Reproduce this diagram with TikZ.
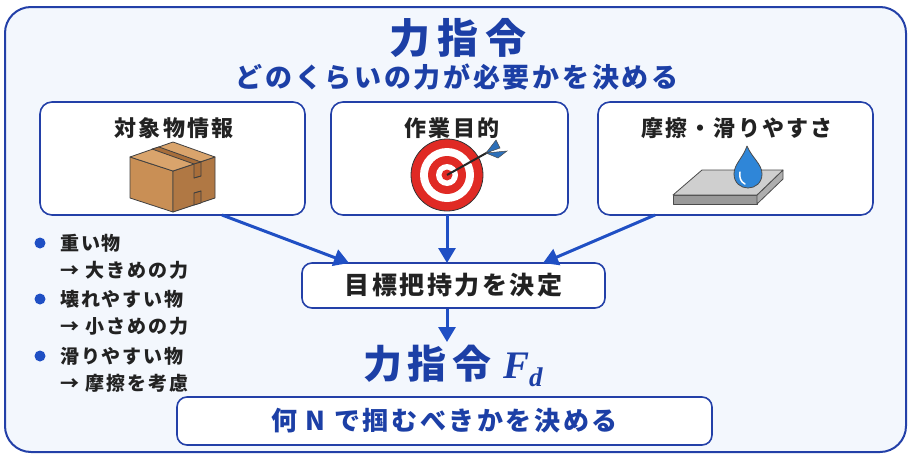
\documentclass[tikz,border=0pt]{standalone}
\usepackage{fontspec}
\setmainfont{Noto Sans CJK JP}[LetterSpace=10]
\newfontfamily\symserif{Liberation Serif}
\usetikzlibrary{arrows.meta}
\definecolor{frameblue}{HTML}{2340A8}
\definecolor{titleblue}{HTML}{1C3FA6}
\definecolor{arrowblue}{HTML}{1F4FC4}
\definecolor{panelbg}{HTML}{F3F7FD}
\definecolor{textdark}{HTML}{222222}
\definecolor{boxtop}{HTML}{D9A46C}
\definecolor{boxleft}{HTML}{C98F55}
\definecolor{boxright}{HTML}{B07844}
\definecolor{tape}{HTML}{A86E3A}
\definecolor{targetred}{HTML}{E02A24}
\definecolor{dartblue}{HTML}{2D6FB8}
\definecolor{plate}{HTML}{CFCFCF}
\definecolor{plateside}{HTML}{9A9A9A}
\definecolor{drop}{HTML}{2F86D8}
\tikzset{
  card/.style={draw=frameblue, line width=1.6pt, fill=white, rounded corners=12pt},
  flow/.style={draw=arrowblue, line width=3pt, -{Triangle[length=15pt,width=17pt]}},
  label/.style={text=textdark, font=\bfseries\fontsize{22}{26}\selectfont},
  bullet/.style={circle, fill=arrowblue, inner sep=0pt, minimum size=11pt},
  note/.style={text=textdark, font=\bfseries\fontsize{19}{22}\selectfont, anchor=west, inner sep=0pt},
}
\begin{document}
\begin{tikzpicture}[x=1pt, y=-1pt]
\useasboundingbox (0,0) rectangle (910,455);
\fill[white] (0,0) rectangle (910,455);
% outer panel
\draw[draw=frameblue, line width=2pt, fill=panelbg, rounded corners=26pt] (5,7) rectangle (906,452);

% headings
\node[text=titleblue, font=\bfseries\fontsize{41}{44}\selectfont\addfontfeature{LetterSpace=18}] (title) at (458,38) {力指令};
\node[text=titleblue, font=\bfseries\fontsize{27}{30}\selectfont] (subtitle) at (457,77) {どのくらいの力が必要かを決める};

% input cards
\draw[card] (40,102) rectangle (305,215);
\draw[card] (331,102) rectangle (568,215);
\draw[card] (598,102) rectangle (873,215);
\node[label] (l1) at (174,128) {対象物情報};
\node[label] (l2) at (452,128) {作業目的};
\node[label] (l3) at (737,128) {摩擦・滑りやすさ};

% cardboard box
\begin{scope}[line join=round, draw=black!75, line width=0.8pt]
\filldraw[fill=boxleft] (130,157) -- (173,171) -- (173,212) -- (130,198) -- cycle;
\filldraw[fill=boxright] (173,171) -- (215,157) -- (215,198) -- (173,212) -- cycle;
\filldraw[fill=boxtop] (173,142) -- (215,157) -- (173,171) -- (130,157) -- cycle;
% tape on top and down the right face
\filldraw[fill=tape] (152,149) -- (159,147) -- (201,162) -- (194,164) -- cycle;
\filldraw[fill=tape] (194,164) -- (201,162) -- (201,176) -- (194,178) -- cycle;
\filldraw[fill=tape] (194,193) -- (201,191) -- (201,203) -- (194,205) -- cycle;
\draw[line width=0.6pt] (194,178) -- (201,176) (194,193) -- (201,191);
\end{scope}

% target with dart
\begin{scope}[draw=black!80, line width=0.8pt]
\filldraw[fill=targetred] (447,175) circle (36);
\fill[white] (447,175) circle (27);
\fill[targetred] (447,175) circle (19);
\fill[white] (447,175) circle (11);
\fill[targetred] (447,175) circle (5.5);
\draw[line width=2pt, black!85] (447,175) -- (490,151);
\fill[dartblue, draw=black!70, line width=0.5pt] (486,153) -- (496,140) -- (500,148) -- cycle;
\fill[dartblue, draw=black!70, line width=0.5pt] (486,153) -- (507,151) -- (498,158) -- cycle;
\end{scope}

% slab with water drop
\begin{scope}[line join=round, draw=black!70, line width=0.8pt]
\filldraw[fill=plateside] (673,195) -- (757,195) -- (757,204) -- (673,204) -- cycle;
\filldraw[fill=plateside!80] (757,195) -- (783,170) -- (783,179) -- (757,204) -- cycle;
\filldraw[fill=plate] (673,195) -- (702,170) -- (783,170) -- (757,195) -- cycle;
\filldraw[fill=drop] (747,146) .. controls (752,158) and (762,164) .. (762,174)
  .. controls (762,183) and (755,188) .. (748,188)
  .. controls (741,188) and (734,183) .. (734,174)
  .. controls (734,164) and (743,158) .. (747,146) -- cycle;
\draw[white, line width=1.5pt, line cap=round] (740,172) .. controls (739,178) and (741,182) .. (745,184);
\end{scope}

% decision box
\node[draw=frameblue, line width=1.6pt, fill=white, rounded corners=10pt,
      minimum width=303pt, minimum height=45pt, text=textdark,
      font=\bfseries\fontsize{25}{28}\selectfont] (decide) at (453.5,285.5) {目標把持力を決定};

\coordinate (s1) at (222,215);
\coordinate (s2) at (447,215);
\coordinate (s3) at (655,215);
\coordinate (e1) at (349,263);
\coordinate (e2) at (447,263);
\coordinate (e3) at (543,263);
\draw[flow] (s1) -- (e1);
\draw[flow] (s2) -- (e2);
\draw[flow] (s3) -- (e3);

% force command
\node[text=titleblue, font=\bfseries\fontsize{39}{42}\selectfont\addfontfeature{LetterSpace=14}, inner sep=0pt] (fd) at (453,366)
  {力指令\hspace{0.3em}{\symserif\bfseries\itshape F\raisebox{-0.22em}{\fontsize{27}{30}\selectfont d}}};
\coordinate (fdtop) at (447,342);
\draw[flow] (decide.south -| fdtop) -- (fdtop);

% result box
\node[draw=frameblue, line width=1.6pt, fill=white, rounded corners=10pt,
      minimum width=535pt, minimum height=48pt, text=titleblue,
      font=\bfseries\fontsize{26}{30}\selectfont] (result) at (444.5,421) {何 N で掴むべきかを決める};

% notes on the left
\node[bullet] (b1) at (40,243) {};
\node[bullet] (b2) at (40,299) {};
\node[bullet] (b3) at (40,356) {};
\node[note] (n1a) at (60,243) {重い物};
\node[note] (n1b) at (60,270) {→ 大きめの力};
\node[note] (n2a) at (60,299) {壊れやすい物};
\node[note] (n2b) at (60,326) {→ 小さめの力};
\node[note] (n3a) at (60,356) {滑りやすい物};
\node[note] (n3b) at (60,383) {→ 摩擦を考慮};
\end{tikzpicture}
\end{document}
